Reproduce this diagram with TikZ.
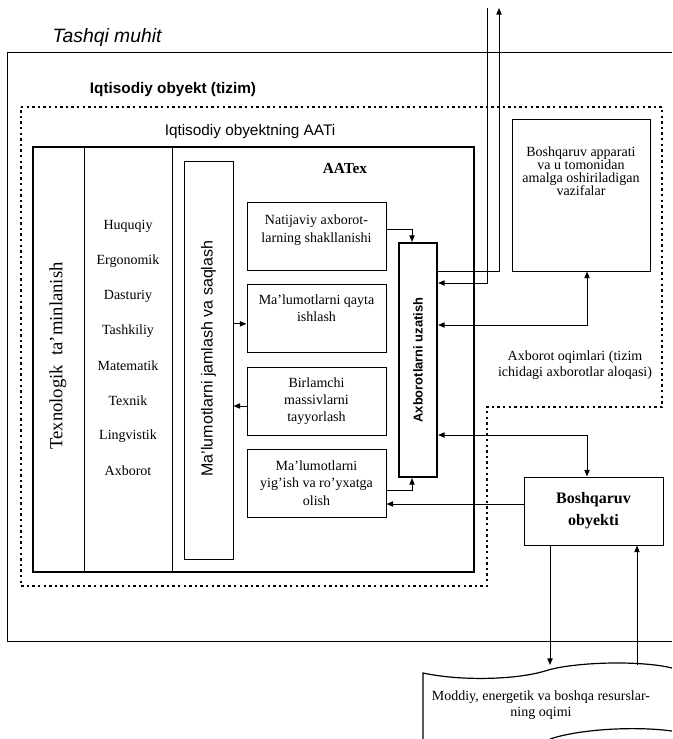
\documentclass[tikz,border=0pt]{standalone}
\usepackage{fontspec}
\setmainfont{Liberation Serif}
\setsansfont{Liberation Sans}
\usetikzlibrary{arrows.meta, positioning}
\tikzset{
  procbox/.style={
    rectangle, draw=black, line width=0.75pt,
    inner sep=0pt, minimum width=104.25pt, minimum height=51pt
  },
  boxtext/.style={font=\fontsize{10.5}{13}\selectfont, align=center, inner sep=1pt},
  thickbox/.style={rectangle, draw=black, line width=1.6pt, inner sep=0pt},
  listitem/.style={font=\fontsize{10.5}{12}\selectfont},
  frameline/.style={line width=0.75pt},
  dotframe/.style={line width=0.9pt, dash pattern=on 1.8pt off 2.4pt},
  arrow/.style={-{Triangle[length=5pt,width=4pt]}, line width=0.75pt},
  biarrow/.style={{Triangle[length=5pt,width=4pt]}-{Triangle[length=5pt,width=4pt]}, line width=0.75pt}
}

\begin{document}
\begin{tikzpicture}[x=0.75pt, y=-0.75pt]
  \useasboundingbox (0,0) rectangle (672,739);

  % External environment
  \draw[frameline] (672,52) -- (7,52) -- (7,641) -- (672,641);
  \node[font=\fontsize{14.5}{16}\selectfont\sffamily\itshape] (envlabel) at (107,37) {Tashqi muhit};

  % Economic object (system)
  \draw[dotframe] (21,107) -- (662,107) -- (662,407) -- (487,407) -- (487,586) -- (21,586) -- cycle;
  \node[font=\fontsize{11.5}{13}\selectfont\sffamily\bfseries] (syslabel) at (173,90) {Iqtisodiy obyekt (tizim)};

  % AATi frame and its columns
  \draw[line width=1.6pt] (33,147) rectangle (474,572);
  \draw[frameline] (84,147) -- (84,572) (172,147) -- (172,572);
  \node[font=\fontsize{11.5}{13}\selectfont\sffamily] (aatilabel) at (250,132) {Iqtisodiy obyektning AATi};
  \node[font=\fontsize{11.5}{13}\selectfont\bfseries] (aatexlabel) at (345,169) {AATex};

  \node[rotate=90, font=\fontsize{14}{16}\selectfont] (texnolog) at (58,356) {Texnologik\ \ ta'minlanish};

  \foreach \sub [count=\i] in {Huquqiy, Ergonomik, Dasturiy, Tashkiliy, Matematik, Texnik, Lingvistik, Axborot}
    \node[listitem] (sub\i) at (128,{226+35*(\i-1)}) {\sub};

  % Storage column
  \node[procbox, minimum width=36.75pt, minimum height=298.5pt] (jamlash) at (208.5,360) {};
  \node[rotate=90, font=\fontsize{12}{14}\selectfont\sffamily] (jamlashtext) at (208.5,358.5) {Ma'lumotlarni jamlash va saqlash};

  % Processing boxes
  \node[procbox] (natija) at (316.5,236) {};
  \node[boxtext, below=9pt of natija.north] (natijatext) {Natijaviy axborot-\\larning shakllanishi};

  \node[procbox] (qayta) at (316.5,318.5) {};
  \node[boxtext, below=7pt of qayta.north] (qaytatext) {Ma'lumotlarni qayta\\ishlash};

  \node[procbox, boxtext, inner sep=0pt] (birlamchi) at (316.5,401) {Birlamchi\\massivlarni\\tayyorlash};
  \node[procbox, boxtext, inner sep=0pt] (yigish) at (316.5,483) {Ma'lumotlarni\\yig'ish va ro'yxatga\\olish};

  % Transmission
  \node[thickbox, minimum width=28.5pt, minimum height=175.5pt] (uzatish) at (418,360) {};
  \node[rotate=90, font=\fontsize{9.7}{11}\selectfont\sffamily\bfseries] (uzatishtext) at (418,360) {Axborotlarni uzatish};

  % Management apparatus
  \node[procbox, minimum width=103.5pt, minimum height=114pt] (apparat) at (581,195) {};
  \node[boxtext, font=\fontsize{10.5}{9.8}\selectfont, below=20pt of apparat.north] (apparattext)
    {Boshqaruv apparati\\va u tomonidan\\amalga oshiriladigan\\vazifalar};

  \node[font=\fontsize{10.5}{12}\selectfont, align=center] (oqimlar) at (575,365)
    {Axborot oqimlari (tizim\\ichidagi axborotlar aloqasi)};

  % Managed object
  \node[procbox, font=\fontsize{12}{16.5}\selectfont\bfseries, align=center] (obyekt) at (593.5,511) {Boshqaruv\\obyekti};

  % Resource flow
  \draw[line width=0.9pt] (423,739) -- (423,673) .. controls (460,681) and (515,680) .. (545,671)
    .. controls (572,662) and (640,660) .. (672,668);
  \draw[line width=0.9pt] (550,739) .. controls (580,729) and (635,726) .. (672,731);
  \node[font=\fontsize{10.5}{12}\selectfont, align=center] (resurs) at (541,705)
    {Moddiy, energetik va boshqa resurslar-\\ning oqimi};

  % Free ends
  \coordinate (extin) at (487,8);
  \coordinate (extout) at (499,8);
  \coordinate (flowin) at (550,665);
  \coordinate (flowout) at (637,665);

  % Inside AATex
  \draw[arrow] ([yshift=5.25pt]natija.east) -| ([xshift=-4.5pt]uzatish.north);
  \draw[arrow] ([yshift=-5.25pt]yigish.east) -| ([xshift=-4.5pt]uzatish.south);
  \coordinate (qaytain) at ([yshift=-4pt]qayta.west);
  \draw[arrow] (jamlash.east |- qaytain) -- (qaytain);
  \coordinate (birout) at ([yshift=-3.75pt]birlamchi.west);
  \draw[arrow] (birout) -- (birout -| jamlash.east);

  % Information flows
  \coordinate (uzout) at ([yshift=66.75pt]uzatish.east);
  \draw[arrow] (uzout) -| (extout);
  \coordinate (uzin) at ([yshift=57.75pt]uzatish.east);
  \draw[arrow] (extin) |- (uzin);
  \coordinate (uzapp) at ([yshift=26.25pt]uzatish.east);
  \draw[biarrow] (uzapp) -| ([xshift=4.5pt]apparat.south);
  \coordinate (uzoby) at ([yshift=-56.25pt]uzatish.east);
  \draw[biarrow] (uzoby) -| ([xshift=-4.875pt]obyekt.north);
  \coordinate (obyout) at ([yshift=5.25pt]obyekt.west);
  \draw[arrow] (obyout) -- (obyout -| yigish.east);

  % Resource flows
  \draw[arrow] (flowin |- obyekt.south) -- (flowin);
  \draw[arrow] (flowout) -- (flowout |- obyekt.south);

\end{tikzpicture}
\end{document}
